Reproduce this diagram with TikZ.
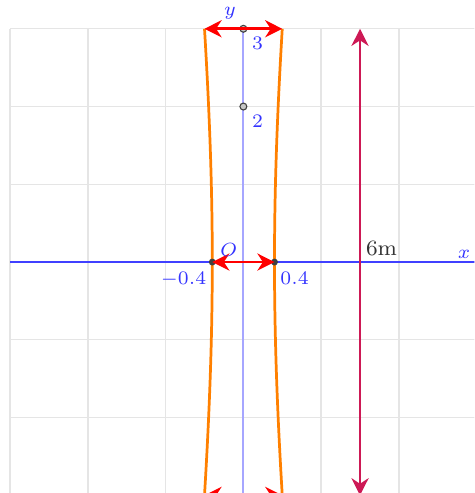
\documentclass[tikz,border=0pt]{standalone}
\usetikzlibrary{arrows.meta}
\definecolor{heightred}{RGB}{205,25,85}
\tikzset{
 gridline/.style={draw=gray!20,line width=.5pt},
 xaxis/.style={draw=blue!75,line width=.6pt},
 yaxis/.style={draw=blue!35,line width=.7pt},
 tower/.style={draw=orange,line width=1pt},
 span/.style={draw=red,line width=1pt,{Stealth[length=2.2mm,width=2.2mm]}-{Stealth[length=2.2mm,width=2.2mm]}},
 heightarrow/.style={draw=heightred,line width=1pt,{Stealth[length=2.2mm,width=2.2mm]}-{Stealth[length=2.2mm,width=2.2mm]}},
 axispoint/.style={circle,draw=gray!50!black,fill=gray!45,line width=.4pt,minimum size=.035in,inner sep=0},
 waistpoint/.style={circle,fill=black!75,minimum size=.035in,inner sep=0},
 axislabel/.style={text=blue!80,font=\scriptsize,inner sep=2pt}
}
\begin{document}
\begin{tikzpicture}[x=1cm,y=1cm]
\clip (-3.13,-2.97) rectangle (2.97,3.37);
\draw[gridline] (-3,-3) grid (3,3);
\draw[xaxis] (-3,0) -- (3.2,0);
\draw[yaxis] (0,-3.2) -- (0,3);
\coordinate (O) at (0,0);
\coordinate (TL) at (-0.5,3);
\coordinate (TR) at (0.5,3);
\coordinate (BL) at (-0.5,-3);
\coordinate (BR) at (0.5,-3);
\coordinate (HT) at (1.5,3);
\coordinate (HB) at (1.5,-3);
\draw[tower,domain=-3:3,samples=61] plot ({-0.4*sqrt(1+\x*\x/16)},\x);
\draw[tower,domain=-3:3,samples=61] plot ({0.4*sqrt(1+\x*\x/16)},\x);
\node[waistpoint] (WL) at (-0.4,0) {};
\node[waistpoint] (WR) at (0.4,0) {};
\node[axispoint] (P3) at (0,3) {};
\node[axispoint] (P2) at (0,2) {};
\draw[span] (TL) -- (TR);
\draw[span] (BL) -- (BR);
\draw[span] (WL.center) -- (WR.center);
\draw[heightarrow] (HT) -- (HB);
\node[axislabel,anchor=north west] at (P3.south east) {$3$};
\node[axislabel,anchor=north west] at (P2.south east) {$2$};
\node[axislabel,anchor=south east] at (O) {$O$};
\node[axislabel,anchor=north east] at (WL.south) {$-0.4$};
\node[axislabel,anchor=north west] at (WR.south) {$0.4$};
\node[axislabel,anchor=south east] at (-0.02,3.05) {$y$};
\node[axislabel,anchor=south east,inner sep=1pt] at (2.96,0) {$x$};
\node[anchor=south west,font=\footnotesize,text=black!80,inner sep=2pt] at (1.5,0) {6m};
\end{tikzpicture}
\end{document}
